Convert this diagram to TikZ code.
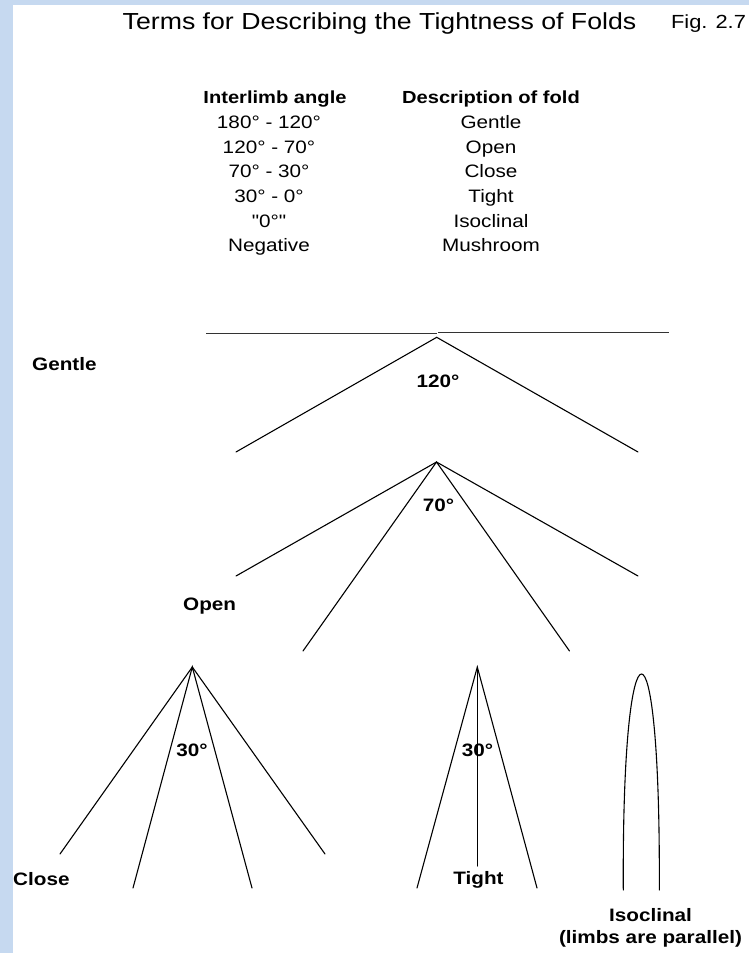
\documentclass[tikz,border=0pt]{standalone}
\usepackage{fontspec}
\setmainfont{Liberation Sans}
% same face without TeX quote ligatures, for straight quotes
\newfontfamily\straightq{Liberation Sans}
\definecolor{band}{RGB}{198,217,240}
% slightly widened lettering
\newcommand{\widen}[1]{\scalebox{1.15}[1]{#1}}
\tikzset{
  limb/.style={line width=1.1pt, line cap=round, black},
  flat/.style={line width=1.3pt, black!80},
  txt/.style={inner sep=0pt, anchor=base, font=\fontsize{18}{20}\selectfont},
  hdr/.style={inner sep=0pt, anchor=base, font=\fontsize{17.5}{20}\selectfont\bfseries},
  lbl/.style={inner sep=0pt, anchor=base, font=\fontsize{18}{20}\selectfont\bfseries},
}
\begin{document}
\begin{tikzpicture}[x=1pt,y=-1pt]
\useasboundingbox (0,0) rectangle (749,953);
\fill[white] (0,0) rectangle (749,953);
\fill[band] (0,0) rectangle (749,5);
\fill[band] (0,0) rectangle (13,953);

% title
\node[inner sep=0pt, anchor=base, font=\fontsize{23.2}{26}\selectfont] (title) at (379.5,29.3) {\widen{Terms for Describing the Tightness of Folds}};
\node[inner sep=0pt, anchor=base, font=\fontsize{19}{22}\selectfont] (fig) at (708.5,28.3) {\widen{Fig. 2.7}};

% table of terms
\node[hdr] (hA) at (275,103) {\widen{Interlimb angle}};
\node[hdr] (hB) at (491,103) {\widen{Description of fold}};
\node[txt] (a1) at (269,128.7) {\widen{180° - 120°}};
\node[txt] (a2) at (269,153.3) {\widen{120° - 70°}};
\node[txt] (a3) at (269,177.9) {\widen{70° - 30°}};
\node[txt] (a4) at (269,202.5) {\widen{30° - 0°}};
\node[txt] (a5) at (269,227.1) {\widen{\straightq "0°"}};
\node[txt] (a6) at (269,251.7) {\widen{Negative}};
\node[txt] (b1) at (491,128.7) {\widen{Gentle}};
\node[txt] (b2) at (491,153.3) {\widen{Open}};
\node[txt] (b3) at (491,177.9) {\widen{Close}};
\node[txt] (b4) at (491,202.5) {\widen{Tight}};
\node[txt] (b5) at (491,227.1) {\widen{Isoclinal}};
\node[txt] (b6) at (491,251.7) {\widen{Mushroom}};

% gentle fold
\coordinate (hL) at (206,333.3);
\coordinate (hM) at (436.5,333.3);
\coordinate (hN) at (438,332.7);
\coordinate (hR) at (669,332.7);
\draw[flat] (hL) -- (hM);
\draw[flat] (hN) -- (hR);
\coordinate (gA) at (436.7,337.3);
\coordinate (gL) at (236,452);
\coordinate (gR) at (638,452);
\draw[limb] (gL) -- (gA) -- (gR);
\node[lbl, anchor=base west] (lGentle) at (32,370) {\widen{Gentle}};
\node[lbl] (l120) at (438,387.7) {\widen{120°}};

% open fold
\coordinate (oA) at (436.5,462);
\coordinate (oL) at (236,576);
\coordinate (oR) at (638,576);
\coordinate (oIL) at (303,651);
\coordinate (oIR) at (569.5,651);
\draw[limb] (oL) -- (oA) -- (oR);
\draw[limb] (oIL) -- (oA) -- (oIR);
\node[lbl] (l70) at (438.5,511.7) {\widen{70°}};
\node[lbl, anchor=base west] (lOpen) at (183,610.5) {\widen{Open}};

% close fold
\coordinate (cA) at (192.3,667);
\coordinate (cL) at (60,854);
\coordinate (cR) at (325,854);
\coordinate (cIL) at (133,888);
\coordinate (cIR) at (252,888);
\draw[limb] (cL) -- (cA) -- (cR);
\draw[limb] (cIL) -- (cA) -- (cIR);
\node[lbl] (l30c) at (192,756.7) {\widen{30°}};
\node[lbl, anchor=base west] (lClose) at (13,885) {\widen{Close}};

% tight fold
\coordinate (tA) at (477.3,667);
\coordinate (tL) at (417,888);
\coordinate (tR) at (537,888);
\coordinate (tAx) at (477.3,866);
\draw[limb] (tL) -- (tA) -- (tR);
\draw[limb] (tA) -- (tAx);
\node[lbl] (l30t) at (477.5,756.7) {\widen{30°}};
\node[lbl] (lTight) at (478.5,884) {\widen{Tight}};

% isoclinal fold
\coordinate (iL) at (623.3,890);
\coordinate (iA) at (641.5,674);
\coordinate (iR) at (659.3,890);
\draw[limb] (iL) .. controls (622.5,740) and (632.5,674) .. (iA)
                 .. controls (650.5,674) and (660,740) .. (iR);
\node[lbl] (lIso) at (650.5,921.7) {\widen{Isoclinal}};
\node[lbl] (lPar) at (650.5,943) {\widen{(limbs are parallel)}};
\end{tikzpicture}
\end{document}
